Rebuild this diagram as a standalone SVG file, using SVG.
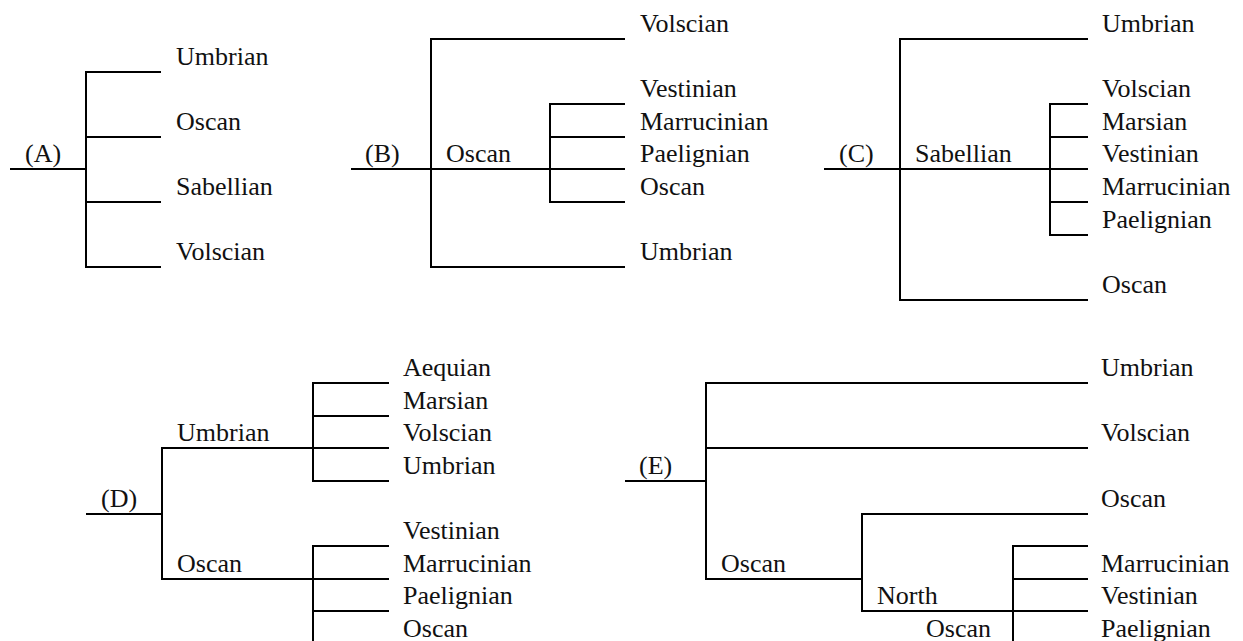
<svg xmlns="http://www.w3.org/2000/svg" width="1243" height="641" viewBox="0 0 1243 641">
  <style>
    .ln { fill: none; stroke: #000; stroke-width: 2; stroke-linejoin: miter; }
    .t { font-family: 'Liberation Serif', 'Times New Roman', Times, 'DejaVu Serif', serif; font-size: 26px; fill: #111; }
  </style>
  <rect width="1243" height="641" fill="#fff"/>

  <g id="connectors">
    <path class="ln" d="M10,169 H86"/>
    <path class="ln" d="M161,72 H86 V267 H161"/>
    <path class="ln" d="M86,137 H161 M86,202 H161"/>
    <path class="ln" d="M351,169 H625"/>
    <path class="ln" d="M625,39 H431 V267 H625"/>
    <path class="ln" d="M625,104 H550 V202 H625 M550,137 H625"/>
    <path class="ln" d="M824,169 H1088"/>
    <path class="ln" d="M1088,39 H900 V300 H1088"/>
    <path class="ln" d="M1088,104 H1050 V235 H1088 M1050,137 H1088 M1050,202 H1088"/>
    <path class="ln" d="M86,514 H162"/>
    <path class="ln" d="M389,448 H162 V579 H389"/>
    <path class="ln" d="M389,383 H313 V481 H389 M313,416 H389"/>
    <path class="ln" d="M389,546 H313 V642 M313,611 H389"/>
    <path class="ln" d="M625,481 H706"/>
    <path class="ln" d="M1088,383 H706 V579 H862"/>
    <path class="ln" d="M706,448 H1088"/>
    <path class="ln" d="M1088,514 H862 V611 H1013"/>
    <path class="ln" d="M1088,546 H1013 V642 M1013,579 H1088 M1013,611 H1088"/>
  </g>

  <g id="tree-A" class="t" font-family="Liberation Serif, serif">
    <g id="A-root"><text x="25" y="162">(A)</text></g>
    <g id="A-umbrian"><text x="176" y="65">Umbrian</text></g>
    <g id="A-oscan"><text x="176" y="130">Oscan</text></g>
    <g id="A-sabellian"><text x="176" y="195">Sabellian</text></g>
    <g id="A-volscian"><text x="176" y="260">Volscian</text></g>
  </g>

  <g id="tree-B" class="t">
    <g id="B-root"><text x="365" y="162">(B)</text></g>
    <g id="B-oscan-group"><text x="446" y="162">Oscan</text></g>
    <g id="B-volscian"><text x="640" y="32">Volscian</text></g>
    <g id="B-vestinian"><text x="640" y="97">Vestinian</text></g>
    <g id="B-marrucinian"><text x="640" y="130">Marrucinian</text></g>
    <g id="B-paelignian"><text x="640" y="162">Paelignian</text></g>
    <g id="B-oscan"><text x="640" y="195">Oscan</text></g>
    <g id="B-umbrian"><text x="640" y="260">Umbrian</text></g>
  </g>

  <g id="tree-C" class="t">
    <g id="C-root"><text x="839" y="162">(C)</text></g>
    <g id="C-sabellian-group"><text x="915" y="162">Sabellian</text></g>
    <g id="C-umbrian"><text x="1102" y="32">Umbrian</text></g>
    <g id="C-volscian"><text x="1102" y="97">Volscian</text></g>
    <g id="C-marsian"><text x="1102" y="130">Marsian</text></g>
    <g id="C-vestinian"><text x="1102" y="162">Vestinian</text></g>
    <g id="C-marrucinian"><text x="1102" y="195">Marrucinian</text></g>
    <g id="C-paelignian"><text x="1102" y="228">Paelignian</text></g>
    <g id="C-oscan"><text x="1102" y="293">Oscan</text></g>
  </g>

  <g id="tree-D" class="t">
    <g id="D-root"><text x="101" y="507">(D)</text></g>
    <g id="D-umbrian-group"><text x="177" y="441">Umbrian</text></g>
    <g id="D-oscan-group"><text x="177" y="572">Oscan</text></g>
    <g id="D-aequian"><text x="403" y="376">Aequian</text></g>
    <g id="D-marsian"><text x="403" y="409">Marsian</text></g>
    <g id="D-volscian"><text x="403" y="441">Volscian</text></g>
    <g id="D-umbrian"><text x="403" y="474">Umbrian</text></g>
    <g id="D-vestinian"><text x="403" y="539">Vestinian</text></g>
    <g id="D-marrucinian"><text x="403" y="572">Marrucinian</text></g>
    <g id="D-paelignian"><text x="403" y="604">Paelignian</text></g>
    <g id="D-oscan"><text x="403" y="637">Oscan</text></g>
  </g>

  <g id="tree-E" class="t">
    <g id="E-root"><text x="639" y="474">(E)</text></g>
    <g id="E-oscan-group"><text x="721" y="572">Oscan</text></g>
    <g id="E-north-group"><text x="877" y="604">North</text></g>
    <g id="E-north-oscan-group"><text x="926" y="637">Oscan</text></g>
    <g id="E-umbrian"><text x="1101" y="376">Umbrian</text></g>
    <g id="E-volscian"><text x="1101" y="441">Volscian</text></g>
    <g id="E-oscan"><text x="1101" y="507">Oscan</text></g>
    <g id="E-marrucinian"><text x="1101" y="572">Marrucinian</text></g>
    <g id="E-vestinian"><text x="1101" y="604">Vestinian</text></g>
    <g id="E-paelignian"><text x="1101" y="637">Paelignian</text></g>
  </g>
</svg>
